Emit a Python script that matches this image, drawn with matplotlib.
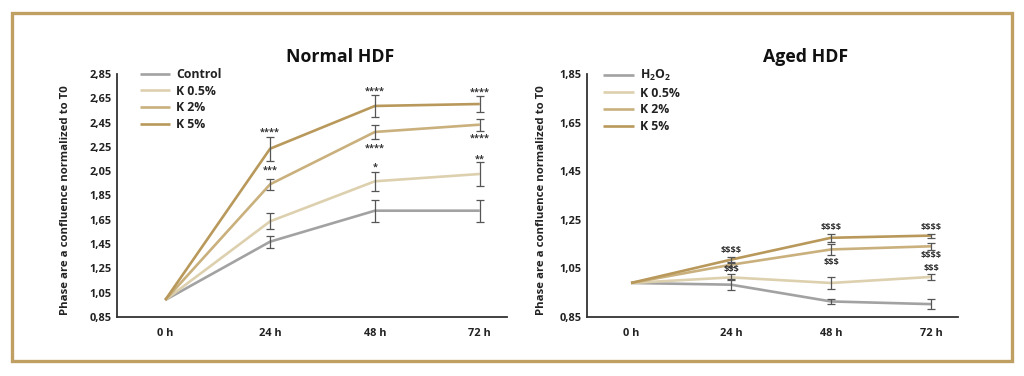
import matplotlib
matplotlib.use("Agg")
import matplotlib.pyplot as plt
from matplotlib.patches import Rectangle
from matplotlib.ticker import FixedLocator, FixedFormatter

plt.rcParams['font.family'] = ['Open Sans', 'DejaVu Sans']
plt.rcParams['font.weight'] = 'bold'
plt.rcParams['mathtext.fontset'] = 'custom'
plt.rcParams['mathtext.rm'] = 'Open Sans:bold'
plt.rcParams['mathtext.bf'] = 'Open Sans:bold'

# ---------------- data ----------------
times = ['0 h', '24 h', '48 h', '72 h']

normal_labels = ['Control', 'K 0.5%', 'K 2%', 'K 5%']
normal_control = [0.99, 1.47, 1.725, 1.725]
normal_k05 = [0.99, 1.637, 1.967, 2.027]
normal_k2 = [0.99, 1.942, 2.373, 2.433]
normal_k5 = [0.99, 2.235, 2.587, 2.603]
normal_control_err = [0, 0.05, 0.09, 0.09]
normal_k05_err = [0, 0.065, 0.08, 0.10]
normal_k2_err = [0, 0.045, 0.06, 0.05]
normal_k5_err = [0, 0.10, 0.088, 0.062]
normal_yticks = [0.85, 1.05, 1.25, 1.45, 1.65, 1.85, 2.05, 2.25, 2.45, 2.65, 2.85]
normal_yticklabels = ['0,85', '1,05', '1,25', '1,45', '1,65', '1,85', '2,05', '2,25', '2,45', '2,65', '2,85']
# (series index, time index, text, side, offset px)
normal_annot = [(3, 1, '****', 'above', 4), (2, 1, '***', 'above', 9),
                (3, 2, '****', 'above', 4), (2, 2, '****', 'below', 9), (1, 2, '*', 'above', 4),
                (3, 3, '****', 'above', 4), (2, 3, '****', 'below', 7), (1, 3, '**', 'above', 3)]

aged_labels = [r'H$_\mathbf{2}$O$_\mathbf{2}$', 'K 0.5%', 'K 2%', 'K 5%']
aged_h2o2 = [0.99, 0.983, 0.914, 0.903]
aged_k05 = [0.99, 1.013, 0.99, 1.015]
aged_k2 = [0.99, 1.065, 1.128, 1.141]
aged_k5 = [0.99, 1.086, 1.176, 1.185]
aged_h2o2_err = [0, 0.022, 0.011, 0.022]
aged_k05_err = [0, 0.012, 0.023, 0.014]
aged_k2_err = [0, 0.008, 0.021, 0.015]
aged_k5_err = [0, 0.011, 0.017, 0.008]
aged_yticks = [0.85, 1.05, 1.25, 1.45, 1.65, 1.85]
aged_yticklabels = ['0,85', '1,05', '1,25', '1,45', '1,65', '1,85']
aged_annot = [(3, 1, '$$$$', 'above', 6), (1, 1, '$$$', 'above', 5),
              (3, 2, '$$$$', 'above', 6), (2, 2, '$$$', 'below', 8),
              (3, 3, '$$$$', 'above', 6), (2, 3, '$$$$', 'below', 6), (1, 3, '$$$', 'above', 5)]

colors = ['#a2a2a2', '#ddd0ae', '#c9b07d', '#b9995b']
ylabel = 'Phase are a confluence normalized to T0'

fig = plt.figure(figsize=(10.24, 3.76), dpi=100)
fig.patches.append(Rectangle((12 / 1024, 1 - 361 / 376), 1000 / 1024, 348 / 376,
                             transform=fig.transFigure, fill=False,
                             edgecolor='#bf9f62', linewidth=2.4))


def draw(rect, title, labels, series, errs, yticks, yticklabels, annots, xlim, title_x, lab_x, leg_x):
    ax = fig.add_axes(rect)
    x = list(range(len(times)))
    for s, e, c, lab in zip(series, errs, colors, labels):
        ax.plot(x, s, color=c, lw=1.9, label=lab, zorder=2, solid_capstyle='butt')
    for s, e in zip(series, errs):
        ax.errorbar(x[1:], s[1:], yerr=e[1:], fmt='none', ecolor='#555555',
                    elinewidth=0.9, capsize=3, capthick=0.9, zorder=3)
    for si, ti, txt, side, off in annots:
        yv = series[si][ti] + (errs[si][ti] if side == 'above' else -errs[si][ti])
        dy = off if side == 'above' else -off
        t = txt.replace('$', r'\$')
        ax.annotate(t, (x[ti], yv), xytext=(0, dy * 0.72), textcoords='offset points',
                    ha='center', va='center', fontsize=6.6, color='#333333', zorder=4)
    ax.set_xlim(*xlim)
    ax.set_ylim(yticks[0], yticks[-1])
    ax.yaxis.set_major_locator(FixedLocator(yticks))
    ax.yaxis.set_major_formatter(FixedFormatter(yticklabels))
    ax.set_xticks(x)
    ax.set_xticklabels(times)
    ax.tick_params(axis='both', length=0, labelsize=7.9, colors='#222222')
    ax.tick_params(axis='y', pad=4)
    ax.tick_params(axis='x', pad=8)
    for sp in ['top', 'right']:
        ax.spines[sp].set_visible(False)
    for sp in ['left', 'bottom']:
        ax.spines[sp].set_color('#333333')
        ax.spines[sp].set_linewidth(1.3)
    ax.set_ylabel(ylabel, fontsize=8.2, fontweight='bold', color='#222222')
    ax.yaxis.set_label_coords(lab_x, 0.48)
    ax.text(title_x, 1.07, title, transform=ax.transAxes, ha='center', va='center',
            fontsize=12.8, fontweight='bold', color='#111111')
    leg = ax.legend(loc='upper left', bbox_to_anchor=(leg_x, 1.025), frameon=False,
                    fontsize=8.8, handlelength=2.5, handletextpad=0.5,
                    labelspacing=0.3, borderaxespad=0, borderpad=0)
    for t in leg.get_texts():
        t.set_color('#222222')
    return ax


draw([117 / 1024, 1 - 317 / 376, 390 / 1024, 243 / 376], 'Normal HDF', normal_labels,
     [normal_control, normal_k05, normal_k2, normal_k5],
     [normal_control_err, normal_k05_err, normal_k2_err, normal_k5_err],
     normal_yticks, normal_yticklabels, normal_annot, (-0.46, 3.26), 0.572, -0.118, 0.058)

draw([587 / 1024, 1 - 317 / 376, 371 / 1024, 243 / 376], 'Aged HDF', aged_labels,
     [aged_h2o2, aged_k05, aged_k2, aged_k5],
     [aged_h2o2_err, aged_k05_err, aged_k2_err, aged_k5_err],
     aged_yticks, aged_yticklabels, aged_annot, (-0.44, 3.27), 0.589, -0.108, 0.043)

fig.savefig('out.png', dpi=100)
